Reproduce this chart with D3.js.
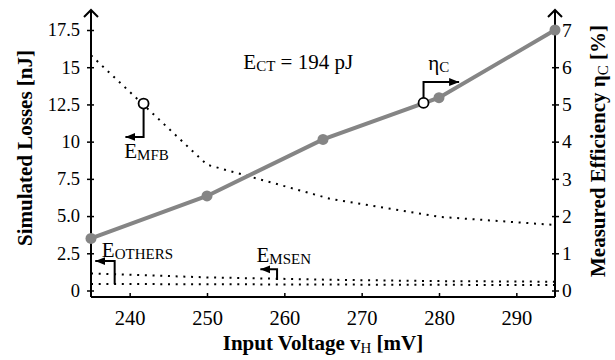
<!DOCTYPE html>
<html lang="en">
<head>
<meta charset="UTF-8">
<title>Simulated Losses and Measured Efficiency</title>
<script src="https://d3js.org/d3.v7.min.js"></script>
<style>
  body { margin: 0; background: #fff; }
  svg { font-family: "Liberation Serif", "Times New Roman", serif; }
</style>
</head>
<body>
<div id="viz"></div>
<script>
// Data
var voltage = [235, 250, 265, 280, 295];          // mV, measured points
var efficiency = [1.4, 2.54, 4.06, 5.18, 7.0];    // %
var lossVoltage = [235, 250, 266, 280, 295];      // mV, simulated
var mfbLoss = [15.8, 8.45, 6.15, 4.95, 4.4];      // nJ
var msenLoss = [1.15, 0.88, 0.72, 0.63, 0.59];    // nJ
var othersLoss = [0.44, 0.42, 0.40, 0.38, 0.37];  // nJ
var xTicks = [240, 250, 260, 270, 280, 290];
var lossTicks = [0, 2.5, 5, 7.5, 10, 12.5, 15, 17.5];
var lossTickLabels = ["0", "2.5", "5.0", "7.5", "10", "12.5", "15", "17.5"];
var effTicks = [0, 1, 2, 3, 4, 5, 6, 7];

var width = 615, height = 360;
var svg = d3.select("#viz").append("svg")
    .attr("width", width)
    .attr("height", height);

var x = d3.scaleLinear().domain([235, 295]).range([91, 555]);
var yL = d3.scaleLinear().domain([0, 17.5]).range([290.5, 30]);
var yR = d3.scaleLinear().domain([0, 7]).range([290.5, 30]);
var axisY = 297;

svg.append("defs").append("marker")
    .attr("id", "head")
    .attr("markerUnits", "userSpaceOnUse")
    .attr("viewBox", "0 -5 10 10")
    .attr("refX", 10).attr("refY", 0)
    .attr("markerWidth", 10).attr("markerHeight", 10)
    .attr("orient", "auto")
  .append("path")
    .attr("d", "M0,-4L10,0L0,4Z")
    .attr("fill", "#000");

// Axes
var gx = svg.append("g")
    .attr("transform", "translate(0," + axisY + ")")
    .call(d3.axisBottom(x).tickValues(xTicks).tickFormat(d3.format("d")));
gx.selectAll(".tick line").attr("y1", -4).attr("y2", 1).attr("stroke-width", 1.5);
gx.selectAll(".tick text").attr("y", 28).attr("dy", 0)
    .attr("font-size", 20.5).attr("font-family", "Liberation Serif").attr("fill", "#000");

var gl = svg.append("g")
    .attr("transform", "translate(" + x(235) + ",0)")
    .call(d3.axisLeft(yL).tickValues(lossTicks).tickFormat(function(d, i) { return lossTickLabels[i]; }));
gl.selectAll(".tick line").attr("x1", -4).attr("x2", 3).attr("stroke-width", 1.5);
gl.selectAll(".tick text").attr("x", -11)
    .attr("font-size", 18.5).attr("font-family", "Liberation Serif").attr("fill", "#000");

var gr = svg.append("g")
    .attr("transform", "translate(" + x(295) + ",0)")
    .call(d3.axisRight(yR).tickValues(effTicks).tickFormat(d3.format("d")));
gr.selectAll(".tick line").attr("x1", -3).attr("x2", 4).attr("stroke-width", 1.5);
gr.selectAll(".tick text").attr("x", 7)
    .attr("font-size", 19.5).attr("font-family", "Liberation Serif").attr("fill", "#000");

svg.selectAll(".domain").remove();

var axisLines = svg.append("g").attr("stroke", "#000").attr("stroke-width", 2).attr("fill", "none");
axisLines.append("path").attr("d", "M" + x(235) + "," + axisY + "H" + x(295));
[235, 295].forEach(function(v) {
  var px = x(v);
  axisLines.append("path").attr("d", "M" + px + "," + axisY + "V10");
  axisLines.append("path").attr("d", "M" + (px - 7) + ",17L" + px + ",10L" + (px + 7) + ",17");
});

// Dotted simulated losses
var lossLine = d3.line()
    .x(function(d) { return x(d[0]); })
    .y(function(d) { return yL(d[1]); });
[mfbLoss, msenLoss, othersLoss].forEach(function(series) {
  svg.append("path")
      .datum(d3.zip(lossVoltage, series))
      .attr("d", lossLine)
      .attr("fill", "none")
      .attr("stroke", "#000")
      .attr("stroke-width", 2)
      .attr("stroke-dasharray", "2,5.7");
});

// Measured efficiency
var effData = d3.zip(voltage, efficiency);
svg.append("path")
    .datum(effData)
    .attr("d", d3.line().x(function(d) { return x(d[0]); }).y(function(d) { return yR(d[1]); }))
    .attr("fill", "none")
    .attr("stroke", "#858585")
    .attr("stroke-width", 4);
svg.selectAll(".eff-pt")
  .data(effData)
  .enter().append("circle")
    .attr("class", "eff-pt")
    .attr("cx", function(d) { return x(d[0]); })
    .attr("cy", function(d) { return yR(d[1]); })
    .attr("r", 5.5)
    .attr("fill", "#858585");

// Annotations: elbow arrows (in data coords, loss scale) and hollow markers
var arrows = [
  [[241.8, 12.56], [241.8, 10.32], [239.45, 10.32]],
  [[278.0, 12.6], [278.0, 14.0], [282.6, 14.0]],
  [[238.06, 0.42], [238.06, 1.98], [235.55, 1.98]],
  [[259.06, 0.70], [259.06, 1.42], [256.9, 1.42]]
];
var markers = [[241.8, 12.56], [278.0, 12.6]];

svg.selectAll(".note-arrow")
  .data(arrows)
  .enter().append("path")
    .attr("class", "note-arrow")
    .attr("d", lossLine)
    .attr("fill", "none")
    .attr("stroke", "#000")
    .attr("stroke-width", 2)
    .attr("marker-end", "url(#head)");

svg.selectAll(".note-mark")
  .data(markers)
  .enter().append("circle")
    .attr("class", "note-mark")
    .attr("cx", function(d) { return x(d[0]); })
    .attr("cy", function(d) { return yL(d[1]); })
    .attr("r", 5)
    .attr("fill", "#fff")
    .attr("stroke", "#000")
    .attr("stroke-width", 1.8);

// Labels with subscripts
var labels = [
  { v: 254.7, y: 14.88, main: "E", sub: "CT", rest: " = 194 pJ" },
  { v: 239.3, y: 8.87, main: "E", sub: "MFB", rest: "" },
  { v: 236.4, y: 2.26, main: "E", sub: "OTHERS", rest: "" },
  { v: 256.4, y: 1.94, main: "E", sub: "MSEN", rest: "" },
  { v: 278.6, y: 14.82, main: "\u03b7", sub: "C", rest: "" }
];
labels.forEach(function(l) {
  var t = svg.append("text")
      .attr("x", x(l.v))
      .attr("y", yL(l.y))
      .attr("font-size", 21)
      .attr("fill", "#000");
  t.append("tspan").text(l.main);
  t.append("tspan").attr("font-size", 15).attr("dy", 2).text(l.sub);
  if (l.rest) t.append("tspan").attr("dy", -2).text(l.rest);
});

// Axis titles
svg.append("text")
    .attr("x", 323).attr("y", 350)
    .attr("text-anchor", "middle")
    .attr("font-size", 21).attr("font-weight", "bold")
    .call(function(t) {
      t.append("tspan").text("Input Voltage v");
      t.append("tspan").attr("font-size", 15).attr("font-weight", "normal").attr("dy", 3).text("H");
      t.append("tspan").attr("dy", -3).text(" [mV]");
    });

svg.append("text")
    .attr("transform", "translate(32,148) rotate(-90)")
    .attr("text-anchor", "middle")
    .attr("font-size", 21).attr("font-weight", "bold")
    .text("Simulated Losses [nJ]");

svg.append("text")
    .attr("transform", "translate(605,151) rotate(-90)")
    .attr("text-anchor", "middle")
    .attr("font-size", 21).attr("font-weight", "bold")
    .call(function(t) {
      t.append("tspan").text("Measured Efficiency \u03b7");
      t.append("tspan").attr("font-size", 15).attr("font-weight", "normal").attr("dy", 3).text("C");
      t.append("tspan").attr("dy", -3).text(" [%]");
    });
</script>
</body>
</html>
